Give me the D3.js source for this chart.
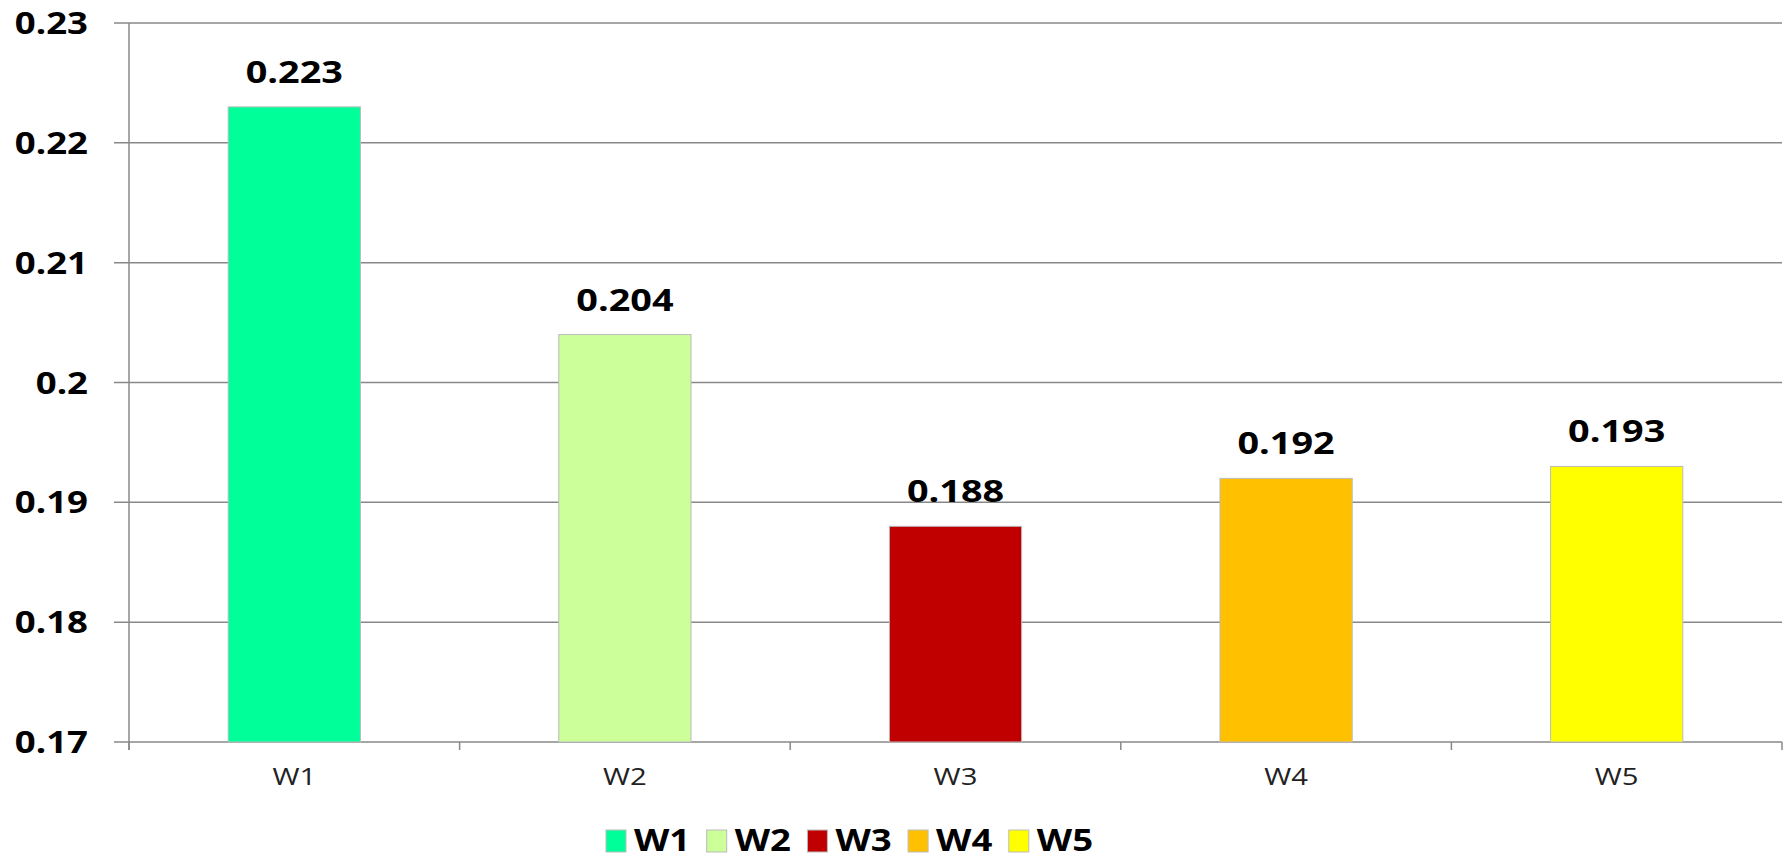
<!DOCTYPE html>
<html>
<head>
<meta charset="utf-8">
<script src="https://cdn.jsdelivr.net/npm/d3@7"></script>
<style>
  body { margin: 0; background: #fff; }
  text { font-family: "Open Sans", sans-serif; }
</style>
</head>
<body>
<div class="chart"></div>
<script>
var categories = ["W1", "W2", "W3", "W4", "W5"];
var values = [0.223, 0.204, 0.188, 0.192, 0.193];
var colors = ["#00FF99", "#CCFF99", "#C00000", "#FFC000", "#FFFF00"];
var yTicks = [0.17, 0.18, 0.19, 0.2, 0.21, 0.22, 0.23];

var W = 1789, H = 859;
var plotLeft = 129, plotRight = 1782, plotTop = 23, plotBottom = 742;
var SX = 1.22; // text in the original is stretched sideways

var svg = d3.select(".chart")
  .append("svg")
  .attr("width", W)
  .attr("height", H);

var x = d3.scaleBand()
  .domain(categories)
  .range([plotLeft, plotRight])
  .paddingInner(0.6)
  .paddingOuter(0.3);

var y = d3.scaleLinear()
  .domain([0.17, 0.23])
  .range([plotBottom, plotTop]);

function stretched(sel, tx, ty) {
  sel.attr("transform", function(d, i) {
    return "translate(" + tx(d, i) + "," + ty(d, i) + ") scale(" + SX + ",1)";
  });
}

// gridlines + y tick marks
svg.append("g")
  .selectAll("line")
  .data(yTicks)
  .join("line")
  .attr("x1", plotLeft - 15)
  .attr("x2", plotRight)
  .attr("y1", function(d) { return y(d); })
  .attr("y2", function(d) { return y(d); })
  .style("stroke", "#888")
  .style("stroke-width", 1.5);

// y axis line
svg.append("line")
  .attr("x1", plotLeft).attr("x2", plotLeft)
  .attr("y1", plotTop).attr("y2", plotBottom + 8)
  .style("stroke", "#888")
  .style("stroke-width", 1.5);

// x category boundary ticks
var step = x.step();
svg.append("g")
  .selectAll("line")
  .data(d3.range(categories.length + 1))
  .join("line")
  .attr("x1", function(i) { return plotLeft + i * step; })
  .attr("x2", function(i) { return plotLeft + i * step; })
  .attr("y1", plotBottom)
  .attr("y2", plotBottom + 8)
  .style("stroke", "#888")
  .style("stroke-width", 1.5);

// y labels
svg.append("g")
  .selectAll("text")
  .data(yTicks)
  .join("text")
  .text(function(d) { return d3.format("")(+d.toFixed(2)); })
  .attr("text-anchor", "end")
  .style("font-size", "30px")
  .style("font-weight", "bold")
  .style("fill", "#000")
  .call(stretched, function() { return 88; }, function(d) { return y(d) + 11; });

// bars
svg.append("g")
  .selectAll("rect")
  .data(values)
  .join("rect")
  .attr("x", function(d, i) { return x(categories[i]); })
  .attr("y", function(d) { return y(d); })
  .attr("width", x.bandwidth())
  .attr("height", function(d) { return plotBottom - y(d); })
  .style("fill", function(d, i) { return colors[i]; })
  .style("stroke", "#bbb")
  .style("stroke-width", 1);

// value labels
svg.append("g")
  .selectAll("text")
  .data(values)
  .join("text")
  .text(function(d) { return d3.format(".3f")(d); })
  .attr("text-anchor", "middle")
  .style("font-size", "31px")
  .style("font-weight", "bold")
  .style("fill", "#000")
  .call(stretched,
        function(d, i) { return x(categories[i]) + x.bandwidth() / 2; },
        function(d) { return y(d) - 24; });

// x labels
svg.append("g")
  .selectAll("text")
  .data(categories)
  .join("text")
  .text(function(d) { return d; })
  .attr("text-anchor", "middle")
  .style("font-size", "24px")
  .style("fill", "#222")
  .call(stretched,
        function(d) { return x(d) + x.bandwidth() / 2; },
        function() { return 785; });

// legend
var legend = svg.append("g")
  .selectAll("g")
  .data(categories)
  .join("g")
  .attr("transform", function(d, i) { return "translate(" + (606 + i * 100.7) + ",830)"; });

legend.append("rect")
  .attr("width", 20)
  .attr("height", 22)
  .style("fill", function(d, i) { return colors[i]; })
  .style("stroke", "#bbb")
  .style("stroke-width", 1);

legend.append("text")
  .text(function(d) { return d; })
  .style("font-size", "30px")
  .style("font-weight", "bold")
  .style("fill", "#000")
  .call(stretched, function() { return 28; }, function() { return 21; });
</script>
</body>
</html>
